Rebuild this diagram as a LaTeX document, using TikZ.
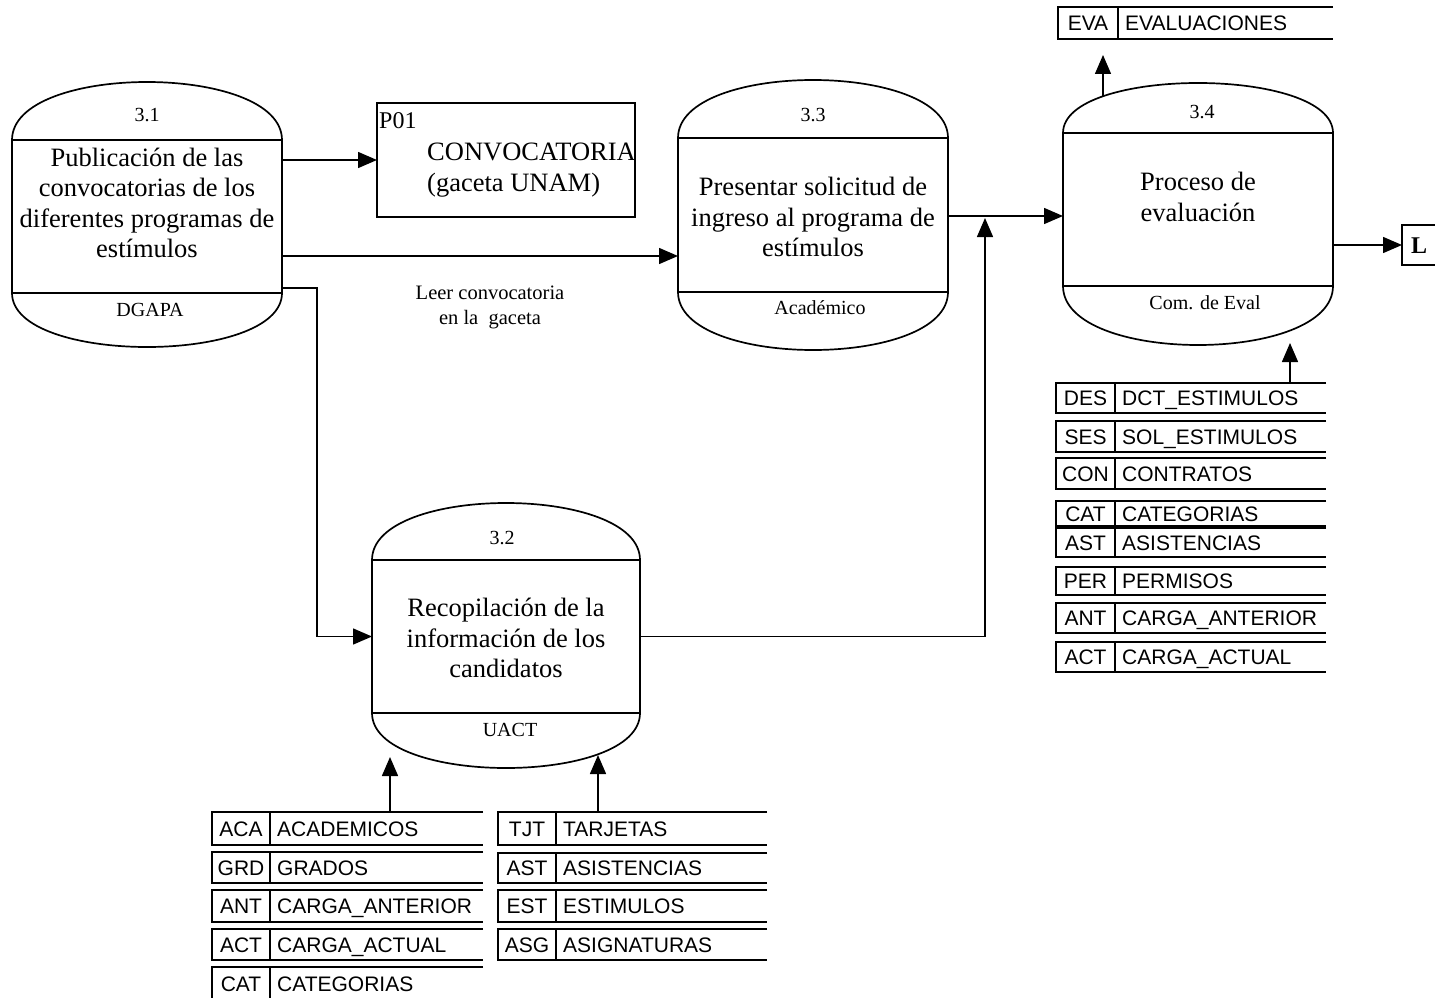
\documentclass[tikz,border=0pt]{standalone}
\usepackage{fontspec}
\setmainfont{Liberation Serif}
\newfontfamily\arialf{Liberation Sans}
\usetikzlibrary{arrows.meta,calc}

% Process: name, left x, right x, cap top, upper rule, lower rule, cap bottom
\newcommand{\dfdproc}[7]{%
  \node[procbox, minimum width={(#3-#2)*1pt}, minimum height={(#6-#5)*1pt}]
    (#1) at ({(#2+#3)/2},{(#5+#6)/2}) {};
  \draw[procline] (#1.north west)
    .. controls ($(#1.north west)+(0,{(#4-#5)/0.75})$) and ($(#1.north east)+(0,{(#4-#5)/0.75})$)
    .. (#1.north east);
  \draw[procline] (#1.south west)
    .. controls ($(#1.south west)+(0,{(#7-#6)/0.75})$) and ($(#1.south east)+(0,{(#7-#6)/0.75})$)
    .. (#1.south east);
}

% Data store: name, left x, divider x, right x, top y, bottom y, code, title
\newcommand{\dfdstore}[8]{%
  \draw[storeline] (#4,#5) -- (#2,#5) -- (#2,#6) -- (#4,#6);
  \draw[storeline] (#3,#5) -- (#3,#6);
  \node[storetext] (#1c) at ({(#2+#3)/2},{(#5+#6)/2}) {#7};
  \node[storetext, anchor=west] (#1) at ({#3+7},{(#5+#6)/2}) {#8};
}

\begin{document}
\begin{tikzpicture}[x=1pt,y=-1pt,
  procbox/.style={draw, line width=1.7pt, outer sep=0pt, inner sep=0pt},
  procline/.style={line width=1.7pt},
  proctext/.style={align=center, font=\fontsize{26.5}{30.5}\selectfont},
  tag/.style={font=\fontsize{20}{24}\selectfont},
  storeline/.style={line width=1.4pt},
  storetext/.style={font=\arialf\fontsize{21}{24}\selectfont, inner sep=0pt, text height=15pt, text depth=0pt},
  flow/.style={line width=1.5pt, -{Triangle[length=19pt,width=16pt]}}]
\useasboundingbox (0,0) rectangle (1435,998);
\clip (0,0) rectangle (1435,998);

% processes
\dfdproc{p31}{12}{282}{82}{140}{293}{347}
\dfdproc{p33}{678}{948}{80}{138}{292}{350}
\dfdproc{p34}{1063}{1333}{83}{133}{286}{345}
\dfdproc{p32}{372}{640}{503}{560}{713}{768}

\node[tag] (n31) at (147,115) {3.1};
\node[proctext] (t31) at (147,203) {Publicación de las\\convocatorias de los\\diferentes programas de\\estímulos};
\node[tag] (a31) at (150,310) {DGAPA};

\node[tag] (n33) at (813,115) {3.3};
\node[proctext] (t33) at (813,217) {Presentar solicitud de\\ingreso al programa de\\estímulos};
\node[tag] (a33) at (820,308) {Académico};

\node[tag] (n34) at (1202,112) {3.4};
\node[proctext] (t34) at (1198,197) {Proceso de\\evaluación};
\node[tag] (a34) at (1205,303) {Com. de Eval};

\node[tag] (n32) at (502,538) {3.2};
\node[proctext] (t32) at (506,638) {Recopilación de la\\información de los\\candidatos};
\node[tag] (a32) at (510,730) {UACT};

% external document
\node[procbox, minimum width=258pt, minimum height=114pt] (p01) at (506,160) {};
\node[font=\fontsize{24}{28}\selectfont, anchor=west, inner sep=0pt] (p01id) at (379,121) {P01};
\node[proctext, align=left, anchor=west, inner sep=0pt] (p01t) at (427,170) {CONVOCATORIA\\(gaceta UNAM)};

% terminal
\node[procbox, minimum width=50pt, minimum height=40pt, anchor=west] (L) at (1402,245) {};
\node[font=\bfseries\fontsize{24}{28}\selectfont, inner sep=0pt] (Lt) at (1419,246) {L};

% flows between processes
\draw[flow] (p31.east |- p01.west) -- (p01.west);
\draw[flow] ($(p31.north east)+(0,116)$) coordinate (r31) -- (r31 -| p33.west);
\node[align=center, font=\fontsize{20.5}{25}\selectfont] (lbl) at (490,307) {Leer convocatoria\\en la\ \ gaceta};
\draw[flow] ($(p31.south east)+(0,-5)$) -- ++(35,0) |- (p32.west);
\draw[flow] ($(p33.north east)+(0,78)$) coordinate (r33) -- (r33 -| p34.west);
\coordinate (j) at ($(r33)+(37,2)$);
\draw[flow] (p32.east) -| (j);
\draw[flow] (p34.east |- L.west) -- (L.west);

% evaluation output store
\dfdstore{eva}{1058}{1118}{1333}{7}{39}{EVA}{EVALUACIONES}
\coordinate (e1) at (1103,97);
\coordinate (e2) at (1103,55);
\draw[flow] (e1) -- (e2);

% stores read by 3.4
\dfdstore{des}{1056}{1115}{1326}{383}{413}{DES}{DCT\_ESTIMULOS}
\dfdstore{ses}{1056}{1115}{1326}{421}{452}{SES}{SOL\_ESTIMULOS}
\dfdstore{con}{1056}{1115}{1326}{458}{489}{CON}{CONTRATOS}
\dfdstore{cat}{1056}{1115}{1326}{501}{526}{CAT}{CATEGORIAS}
\dfdstore{ast}{1056}{1115}{1326}{528}{557}{AST}{ASISTENCIAS}
\dfdstore{per}{1056}{1115}{1326}{567}{595}{PER}{PERMISOS}
\dfdstore{ant}{1056}{1115}{1326}{603}{633}{ANT}{CARGA\_ANTERIOR}
\dfdstore{act}{1056}{1115}{1326}{642}{672}{ACT}{CARGA\_ACTUAL}
\coordinate (d1) at (1290,383);
\coordinate (d2) at (1290,343);
\draw[flow] (d1) -- (d2);

% stores read by 3.2
\dfdstore{aca}{212}{270}{483}{812}{845}{ACA}{ACADEMICOS}
\dfdstore{grd}{212}{270}{483}{852}{883}{GRD}{GRADOS}
\dfdstore{antb}{212}{270}{483}{890}{922}{ANT}{CARGA\_ANTERIOR}
\dfdstore{actb}{212}{270}{483}{929}{960}{ACT}{CARGA\_ACTUAL}
\dfdstore{catb}{212}{270}{483}{967}{1000}{CAT}{CATEGORIAS}

\dfdstore{tjt}{498}{556}{767}{812}{845}{TJT}{TARJETAS}
\dfdstore{astb}{498}{556}{767}{853}{883}{AST}{ASISTENCIAS}
\dfdstore{est}{498}{556}{767}{890}{922}{EST}{ESTIMULOS}
\dfdstore{asg}{498}{556}{767}{929}{960}{ASG}{ASIGNATURAS}

\coordinate (b1) at (390,812);
\coordinate (b2) at (390,757);
\draw[flow] (b1) -- (b2);
\coordinate (b3) at (598,812);
\coordinate (b4) at (598,755);
\draw[flow] (b3) -- (b4);
\end{tikzpicture}
\end{document}
